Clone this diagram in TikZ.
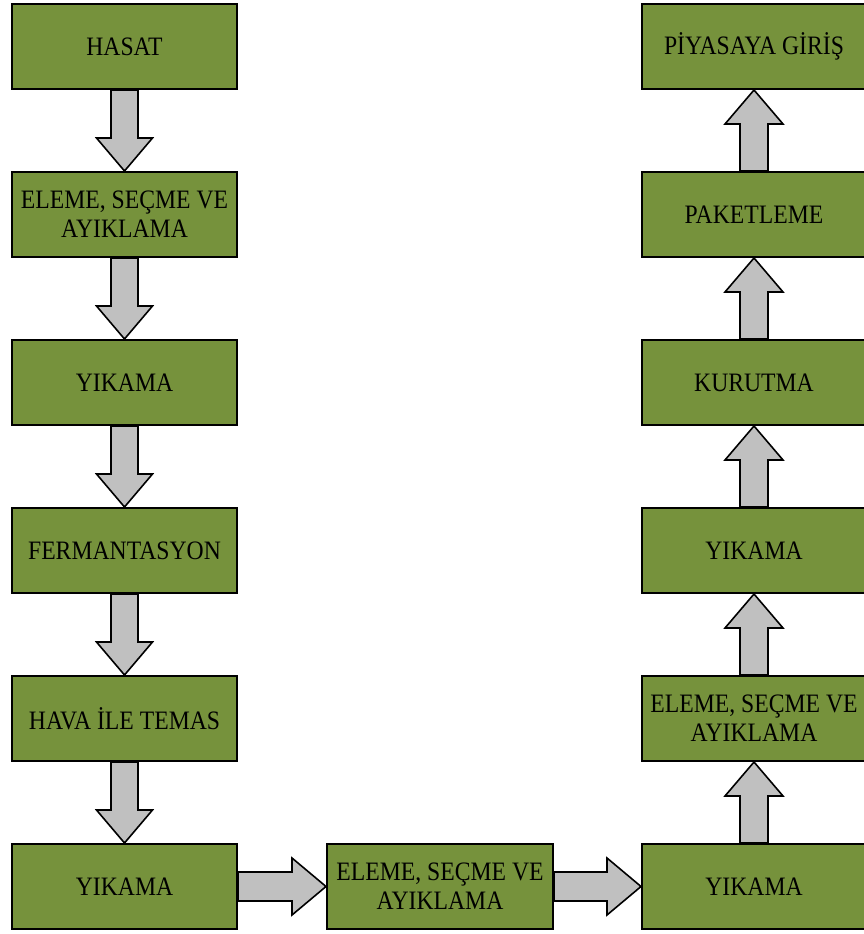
\documentclass[tikz,border=0pt]{standalone}
\usepackage{fontspec}
\setmainfont[FakeStretch=0.89]{Liberation Serif}
\usetikzlibrary{calc}
\definecolor{boxgreen}{RGB}{118,146,60}
\definecolor{arrgray}{RGB}{192,192,192}
\tikzset{
  stepbox/.style={draw=black, line width=2pt, fill=boxgreen, minimum width=225pt, minimum height=85pt, inner sep=0pt, align=center, font=\fontsize{26.6}{29}\selectfont, text=black},
  blockarrow/.style={draw=black, line width=1.6pt, fill=arrgray, line join=miter}
}
\newcommand{\darr}[2]{%
  \draw[blockarrow] let \p1=(#1.south), \p2=(#2.north) in
    (\x1-13.5pt,\y1) -- (\x1-13.5pt,\y2+33pt) -- (\x1-28pt,\y2+33pt) -- (\x2,\y2)
    -- (\x1+28pt,\y2+33pt) -- (\x1+13.5pt,\y2+33pt) -- (\x1+13.5pt,\y1) -- cycle;}
\newcommand{\uarr}[2]{%
  \draw[blockarrow] let \p1=(#1.north), \p2=(#2.south) in
    (\x1-14pt,\y1) -- (\x1-14pt,\y2-34pt) -- (\x1-29pt,\y2-34pt) -- (\x2,\y2)
    -- (\x1+29pt,\y2-34pt) -- (\x1+14pt,\y2-34pt) -- (\x1+14pt,\y1) -- cycle;}
\newcommand{\rarr}[2]{%
  \draw[blockarrow] let \p1=(#1.east), \p2=(#2.west) in
    (\x1,\y1+14.5pt) -- (\x2-34pt,\y1+14.5pt) -- (\x2-34pt,\y1+28.5pt) -- (\x2,\y2)
    -- (\x2-34pt,\y1-28.5pt) -- (\x2-34pt,\y1-14.5pt) -- (\x1,\y1-14.5pt) -- cycle;}
\begin{document}
\begin{tikzpicture}[x=1pt,y=-1pt]
\useasboundingbox (0,0) rectangle (863,934);
\node[stepbox] (l1) at (124.5,46.5) {HASAT};
\node[stepbox] (l2) at (124.5,214.5) {ELEME, SEÇME VE\\AYIKLAMA};
\node[stepbox] (l3) at (124.5,382.5) {YIKAMA};
\node[stepbox] (l4) at (124.5,550.5) {FERMANTASYON};
\node[stepbox] (l5) at (124.5,718.5) {HAVA İLE TEMAS};
\node[stepbox] (l6) at (124.5,886.5) {YIKAMA};
\node[stepbox, minimum width=226pt] (m1) at (440,886.5) {ELEME, SEÇME VE\\AYIKLAMA};
\node[stepbox, minimum width=224pt] (r1) at (754,886.5) {YIKAMA};
\node[stepbox, minimum width=224pt] (r2) at (754,718.5) {ELEME, SEÇME VE\\AYIKLAMA};
\node[stepbox, minimum width=224pt] (r3) at (754,550.5) {YIKAMA};
\node[stepbox, minimum width=224pt] (r4) at (754,382.5) {KURUTMA};
\node[stepbox, minimum width=224pt] (r5) at (754,214.5) {PAKETLEME};
\node[stepbox, minimum width=224pt] (r6) at (754,46.5) {PİYASAYA GİRİŞ};
\darr{l1}{l2}
\darr{l2}{l3}
\darr{l3}{l4}
\darr{l4}{l5}
\darr{l5}{l6}
\rarr{l6}{m1}
\rarr{m1}{r1}
\uarr{r1}{r2}
\uarr{r2}{r3}
\uarr{r3}{r4}
\uarr{r4}{r5}
\uarr{r5}{r6}
\end{tikzpicture}
\end{document}
